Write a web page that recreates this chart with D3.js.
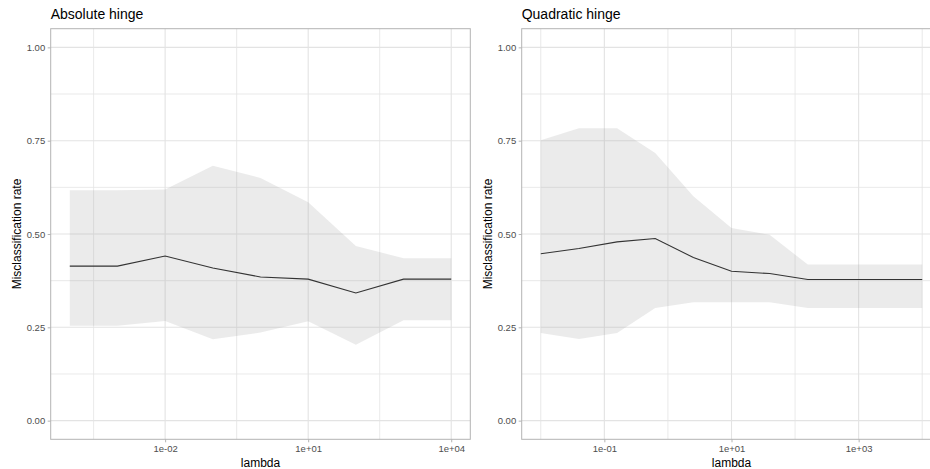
<!DOCTYPE html>
<html>
<head>
<meta charset="utf-8">
<script src="https://cdn.jsdelivr.net/npm/d3@7"></script>
<style>
  html, body { margin: 0; padding: 0; background: #fff; }
  svg { display: block; font-family: "Liberation Sans", Arial, sans-serif; }
</style>
</head>
<body>
<svg id="chart" width="930" height="469"></svg>
<script>
// ---- Data ----
const titles = ["Absolute hinge", "Quadratic hinge"];

const lambdaAbs = [1e-4, 1e-3, 1e-2, 1e-1, 1, 10, 100, 1000, 10000];
const rateAbs   = [0.414, 0.414, 0.441, 0.409, 0.385, 0.379, 0.342, 0.379, 0.379];
const upperAbs  = [0.617, 0.617, 0.619, 0.683, 0.650, 0.585, 0.468, 0.435, 0.435];
const lowerAbs  = [0.254, 0.254, 0.267, 0.218, 0.236, 0.266, 0.203, 0.269, 0.269];

const lambdaQuad = [0.01, 0.0398, 0.1585, 0.631, 2.512, 10, 39.81, 158.5, 631, 2512, 10000];
const rateQuad   = [0.447, 0.461, 0.479, 0.488, 0.437, 0.400, 0.394, 0.378, 0.378, 0.378, 0.378];
const upperQuad  = [0.751, 0.783, 0.783, 0.717, 0.601, 0.516, 0.498, 0.418, 0.418, 0.418, 0.418];
const lowerQuad  = [0.235, 0.219, 0.235, 0.302, 0.317, 0.317, 0.317, 0.302, 0.302, 0.302, 0.302];

const xTicksAbs = [1e-2, 1e1, 1e4];
const xTickLabelsAbs = ["1e-02", "1e+01", "1e+04"];
const xMinorAbs = [3.162e-4, 0.3162, 316.2];

const xTicksQuad = [1e-1, 1e1, 1e3];
const xTickLabelsQuad = ["1e-01", "1e+01", "1e+03"];
const xMinorQuad = [0.01, 1, 100, 10000];

const yTicks = [0, 0.25, 0.5, 0.75, 1];
const yTickLabels = ["0.00", "0.25", "0.50", "0.75", "1.00"];
const yMinor = [0.125, 0.375, 0.625, 0.875];

const xTitle = "lambda";
const yTitle = "Misclassification rate";

// ---- Layout ----
const svg = d3.select("#chart");
const panelTop = 28.7, panelBottom = 439.3;
const panelW = 419.6;
const panels = [
  { left: 50.7, title: titles[0], lam: lambdaAbs, rate: rateAbs, up: upperAbs, lo: lowerAbs,
    ticks: xTicksAbs, labels: xTickLabelsAbs, minor: xMinorAbs, yTitleX: 20.7 },
  { left: 521.7, title: titles[1], lam: lambdaQuad, rate: rateQuad, up: upperQuad, lo: lowerQuad,
    ticks: xTicksQuad, labels: xTickLabelsQuad, minor: xMinorQuad, yTitleX: 491.5 }
];

const y = d3.scaleLinear().domain([-0.05, 1.05]).range([panelBottom, panelTop]);
const gridCol = "#e3e3e3", borderCol = "#b3b3b3", tickTextCol = "#4d4d4d";

panels.forEach(p => {
  const lmin = Math.log10(d3.min(p.lam)), lmax = Math.log10(d3.max(p.lam));
  const pad = (lmax - lmin) * 0.05;
  const x = d3.scaleLog().domain([Math.pow(10, lmin - pad), Math.pow(10, lmax + pad)])
    .range([p.left, p.left + panelW]);

  const g = svg.append("g");

  // minor gridlines
  g.selectAll(".ymin").data(yMinor).enter().append("line")
    .attr("x1", p.left).attr("x2", p.left + panelW)
    .attr("y1", d => y(d)).attr("y2", d => y(d))
    .attr("stroke", gridCol).attr("stroke-width", 0.8);
  g.selectAll(".xmin").data(p.minor).enter().append("line")
    .attr("x1", d => x(d)).attr("x2", d => x(d))
    .attr("y1", panelTop).attr("y2", panelBottom)
    .attr("stroke", gridCol).attr("stroke-width", 0.8);
  // major gridlines
  g.selectAll(".ymaj").data(yTicks).enter().append("line")
    .attr("x1", p.left).attr("x2", p.left + panelW)
    .attr("y1", d => y(d)).attr("y2", d => y(d))
    .attr("stroke", gridCol).attr("stroke-width", 1.1);
  g.selectAll(".xmaj").data(p.ticks).enter().append("line")
    .attr("x1", d => x(d)).attr("x2", d => x(d))
    .attr("y1", panelTop).attr("y2", panelBottom)
    .attr("stroke", gridCol).attr("stroke-width", 1.1);

  // ribbon
  const idx = d3.range(p.lam.length);
  const area = d3.area()
    .x(i => x(p.lam[i])).y0(i => y(p.lo[i])).y1(i => y(p.up[i]));
  g.append("path").datum(idx).attr("d", area)
    .attr("fill", "#999999").attr("fill-opacity", 0.2);

  // line
  const line = d3.line().x(i => x(p.lam[i])).y(i => y(p.rate[i]));
  g.append("path").datum(idx).attr("d", line)
    .attr("fill", "none").attr("stroke", "#333333").attr("stroke-width", 1.1);

  // border
  g.append("rect").attr("x", p.left).attr("y", panelTop)
    .attr("width", panelW).attr("height", panelBottom - panelTop)
    .attr("fill", "none").attr("stroke", borderCol).attr("stroke-width", 1);

  // y axis
  const yAxis = d3.axisLeft(y).tickValues(yTicks).tickSize(3).tickPadding(2.5)
    .tickFormat((d, i) => yTickLabels[i]);
  const ya = g.append("g").attr("transform", `translate(${p.left},0)`).call(yAxis);
  ya.select(".domain").remove();
  ya.selectAll(".tick line").attr("stroke", borderCol);
  ya.selectAll(".tick text").attr("fill", tickTextCol).attr("font-size", "9.5px")
    .attr("font-family", "Liberation Sans, Arial, sans-serif");

  // x axis
  const xAxis = d3.axisBottom(x).tickValues(p.ticks).tickSize(3).tickPadding(3)
    .tickFormat((d, i) => p.labels[i]);
  const xa = g.append("g").attr("transform", `translate(0,${panelBottom})`).call(xAxis);
  xa.select(".domain").remove();
  xa.selectAll(".tick line").attr("stroke", borderCol);
  xa.selectAll(".tick text").attr("fill", tickTextCol).attr("font-size", "9.5px")
    .attr("font-family", "Liberation Sans, Arial, sans-serif");

  // titles
  g.append("text").attr("x", p.left).attr("y", 19).attr("font-size", "14px")
    .attr("fill", "#000").text(p.title);
  g.append("text").attr("x", p.left + panelW / 2).attr("y", 467).attr("text-anchor", "middle")
    .attr("font-size", "12px").attr("fill", "#000").text(xTitle);
  g.append("text")
    .attr("transform", `translate(${p.yTitleX},${(panelTop + panelBottom) / 2}) rotate(-90)`)
    .attr("text-anchor", "middle").attr("font-size", "12px").attr("fill", "#000").text(yTitle);
});
</script>
</body>
</html>
